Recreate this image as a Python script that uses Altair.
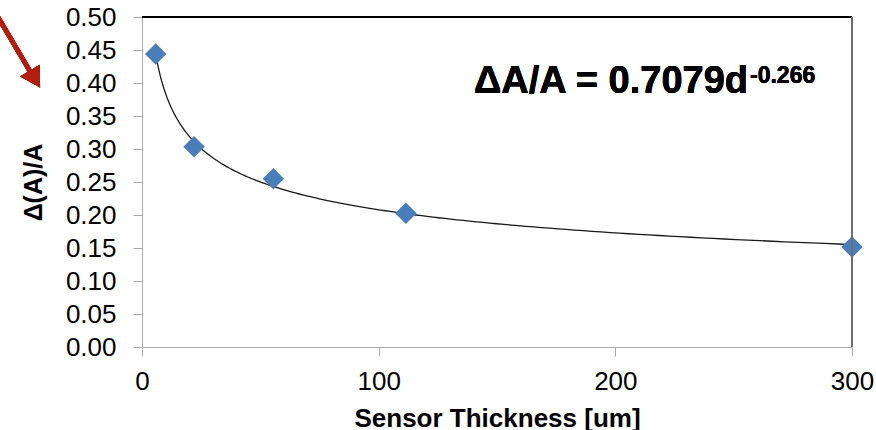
import altair as alt
import numpy as np
import pandas as pd

# Measured relative change vs. sensor thickness
thickness_um = [5.8, 22, 55.5, 111.5, 300]
delta_a_over_a = [0.444, 0.3035, 0.255, 0.2026, 0.1515]

# Power-law trendline  dA/A = COEF * d ** EXPONENT
COEF = 0.7079
EXPONENT = -0.266

y_ticks = [0.0, 0.05, 0.1, 0.15, 0.2, 0.25, 0.3, 0.35, 0.4, 0.45, 0.5]
x_ticks = [0, 100, 200, 300]

W, H = 710, 330

points = pd.DataFrame({"d": thickness_um, "r": delta_a_over_a})
d_fit = np.geomspace(min(thickness_um), max(thickness_um), 200)
fit = pd.DataFrame({"d": d_fit, "r": COEF * d_fit ** EXPONENT})

x_scale = alt.Scale(domain=[0, 300], nice=False, zero=False)
y_scale = alt.Scale(domain=[0, 0.5], nice=False)

x_axis = alt.Axis(
    values=x_ticks, format="d", title="Sensor Thickness [um]",
    domainColor="#ABABAB", tickColor="#ABABAB", tickSize=9, grid=False,
    labelFont="Liberation Sans", labelFontSize=26, labelColor="#000000",
    labelBaseline="alphabetic", labelPadding=33, labelFlush=False, labelOverlap=False,
    titleFont="Liberation Sans", titleFontSize=26, titleFontWeight="bold",
    titleColor="#000000", titleBaseline="alphabetic", titleY=79,
)
y_axis = alt.Axis(
    values=y_ticks, format=".2f", title="Δ(A)/A",
    domainColor="#ABABAB", tickColor="#ABABAB", tickSize=9, grid=False,
    labelFont="Liberation Sans", labelFontSize=26, labelColor="#000000",
    labelPadding=17, labelFlush=False, labelOverlap=False, labelBound=False,
    labelSeparation=0,
    titleFont="Liberation Sans", titleFontSize=25, titleFontWeight="bold",
    titleColor="#000000", titleBaseline="alphabetic", titleAngle=-90,
    titleAlign="center", titleX=-101, titleY=H / 2,
)

curve = alt.Chart(fit).mark_line(color="#1A1A1A", strokeWidth=1.3).encode(
    x=alt.X("d:Q", scale=x_scale, axis=x_axis),
    y=alt.Y("r:Q", scale=y_scale, axis=y_axis),
)

diamonds = alt.Chart(points).mark_point(
    shape="diamond", filled=True, color="#4A7EBB", opacity=1, size=460
).encode(
    x=alt.X("d:Q", scale=x_scale, axis=x_axis),
    y=alt.Y("r:Q", scale=y_scale, axis=y_axis),
)

# frame: black top edge, dark grey right edge
top_edge = alt.Chart(points).mark_rule(color="#000000", strokeWidth=1.5).encode(
    x=alt.value(0), x2=alt.value(W), y=alt.value(0)
)
right_edge = alt.Chart(points).mark_rule(color="#6E6E6E", strokeWidth=1.5).encode(
    x=alt.value(W), y=alt.value(0), y2=alt.value(H)
)

# fit equation with superscript exponent
eq_main = alt.Chart(points).mark_text(
    text="ΔA/A = 0.7079d", font="Liberation Sans", fontWeight="bold",
    fontSize=38, align="right", baseline="alphabetic", color="#000000",
).encode(x=alt.value(606), y=alt.value(76))
eq_sup = alt.Chart(points).mark_text(
    text=f"{EXPONENT:.3f}", font="Liberation Sans", fontWeight="bold",
    fontSize=23, align="left", baseline="alphabetic", color="#000000",
).encode(x=alt.value(608), y=alt.value(66))

# red pointer arrow towards the y axis
arrow_shaft = alt.Chart(points).mark_rule(color="#B01E0E", strokeWidth=4.5).encode(
    x=alt.value(-160), y=alt.value(-27), x2=alt.value(-111), y2=alt.value(56)
)
arrow_head = alt.Chart(points).mark_point(
    shape="triangle-up", filled=True, color="#B01E0E", opacity=1, size=520, angle=149
).encode(x=alt.value(-107), y=alt.value(62))

chart = alt.layer(
    curve, diamonds, top_edge, right_edge, eq_main, eq_sup, arrow_shaft, arrow_head
).properties(
    width=W, height=H,
    autosize=alt.AutoSizeParams(type="none"),
    padding={"left": 142, "top": 17, "right": 24, "bottom": 83},
    background="#FFFFFF",
).configure_view(stroke=None)

chart.save("out.html", embed_options={"renderer": "svg", "actions": False})
